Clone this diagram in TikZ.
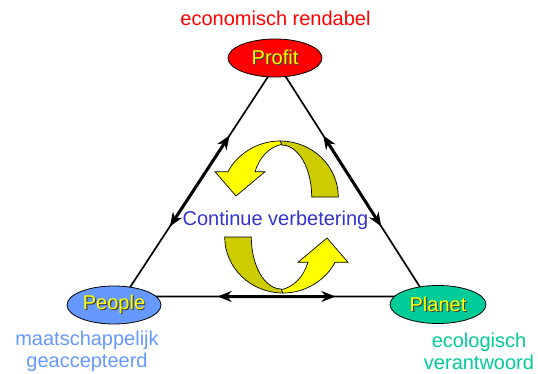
\documentclass[tikz,border=0pt]{standalone}
\usepackage{fontspec}
\setmainfont{Liberation Sans}
\usetikzlibrary{arrows.meta,calc,shapes.geometric}
\definecolor{profitred}{HTML}{FF0000}
\definecolor{peopleblue}{HTML}{6699FF}
\definecolor{planetgreen}{HTML}{00CC99}
\definecolor{loopblue}{HTML}{3333CC}
\definecolor{loopyellow}{HTML}{FFFF00}
\definecolor{loopolive}{HTML}{CCCC00}
\newcommand{\yshadow}[1]{\makebox[0pt][l]{\kern1.2pt\raisebox{-1.2pt}{\color{black!75}#1}}#1}
\tikzset{
	looparrow/.pic={
		\filldraw[fill=loopolive,line width=0.7pt] (56.8,-20) .. controls (56.8,-50.9) and (30.7,-76) .. (-1.5,-76) -- (0.2,-72) .. controls (16.8,-72) and (30.2,-48.7) .. (30.2,-20) -- cycle;
		\filldraw[fill=loopyellow,line width=0.7pt] (-1.5,-76) .. controls (-25,-76) and (-45,-62) .. (-53.5,-45.3) -- (-66.5,-45.3) -- (-45.5,-21) -- (-16.5,-45.3) -- (-26.5,-45.3) .. controls (-22,-60) and (-12,-70) .. (0.2,-72.7) -- cycle;
	}
}
\begin{document}
\begin{tikzpicture}[x=1pt,y=-1pt,
	every node/.style={font=\fontsize{20}{22}\selectfont},
	edge/.style={line width=1.7pt},
	pairarrow/.style={line width=3pt,{Stealth[length=14pt,width=11pt]}-{Stealth[length=14pt,width=11pt]}},
	pillar/.style={ellipse,draw=black,line width=0.8pt,minimum width=94pt,minimum height=38pt,inner sep=0pt,text=loopyellow},
	aim/.style={align=center}]
	\useasboundingbox (0,0) rectangle (538,374);
	\coordinate (cprofit) at (277,63);
	\coordinate (cpeople) at (124,296.5);
	\coordinate (cplanet) at (426,296.5);
	\draw[edge] (cprofit) -- (cpeople) -- (cplanet) -- cycle;
	\draw[pairarrow] ($(cprofit)!0.31!(cpeople)$) -- ($(cprofit)!0.70!(cpeople)$);
	\draw[pairarrow] ($(cprofit)!0.31!(cplanet)$) -- ($(cprofit)!0.70!(cplanet)$);
	\draw[pairarrow] ($(cpeople)!0.31!(cplanet)$) -- ($(cpeople)!0.70!(cplanet)$);
	\pic at (281.5,217) {looparrow};
	\pic[rotate=180] at (281.5,217) {looparrow};
	\node[pillar,fill=profitred] (profit) at (275,58) {\yshadow{Profit}};
	\node[pillar,fill=peopleblue] (people) at (114,305) {\yshadow{People}};
	\node[pillar,fill=planetgreen,minimum width=96pt] (planet) at (438,304.5) {\yshadow{Planet}};
	\node[aim,text=profitred] (econ) at (275.5,18) {economisch rendabel};
	\node[aim,text=peopleblue] (social) at (87,351) {maatschappelijk\\geaccepteerd};
	\node[aim,text=planetgreen] (eco) at (479,351) {ecologisch\\verantwoord};
	\node[aim,text=loopblue] (loop) at (275.5,220) {Continue verbetering};
\end{tikzpicture}
\end{document}
